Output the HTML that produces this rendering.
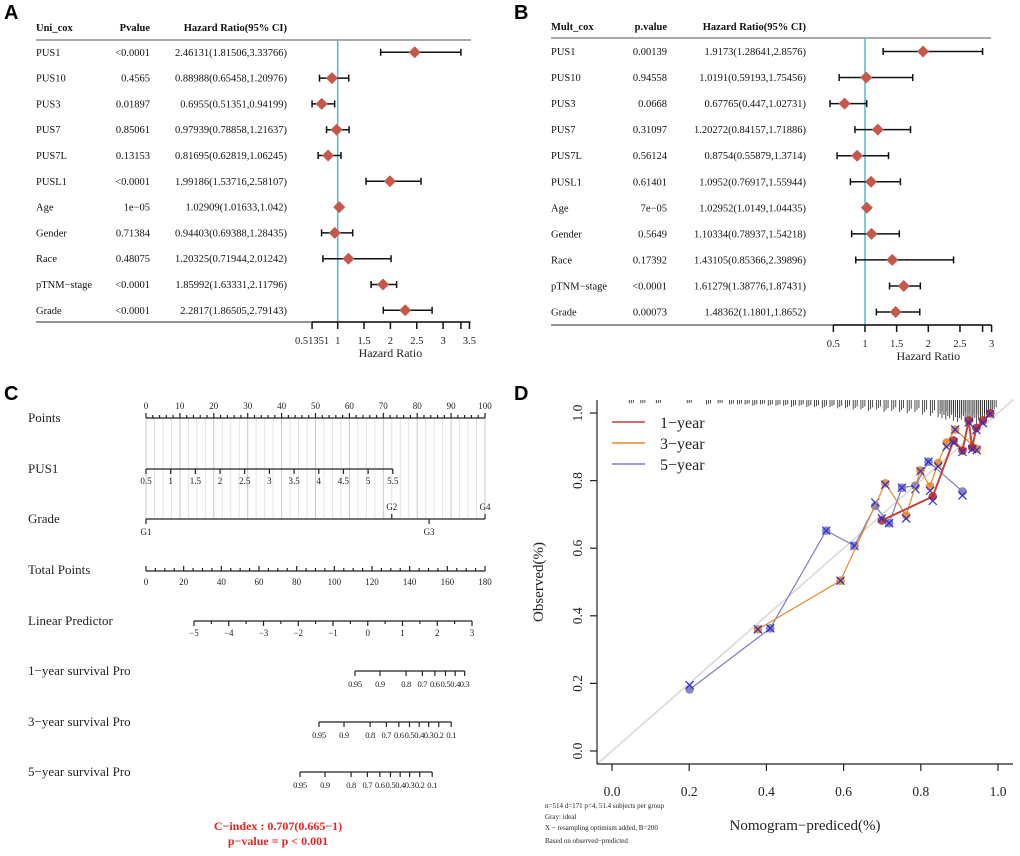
<!DOCTYPE html>
<html><head><meta charset="utf-8"><style>
html,body{margin:0;padding:0;background:#fff;}
svg{display:block;font-family:"Liberation Serif",serif;}
.pl{font-family:"Liberation Sans",sans-serif;font-weight:bold;font-size:20px;}
</style></head><body>
<svg id="fig" width="1020" height="856" viewBox="0 0 1020 856" xmlns="http://www.w3.org/2000/svg">
<text class="pl" x="4" y="19">A</text>
<text class="pl" x="514" y="19">B</text>
<text class="pl" x="4" y="400">C</text>
<text class="pl" x="514" y="400">D</text>
</svg>
<script>
// ---------- Forest A data ----------
const uniNames=["PUS1","PUS10","PUS3","PUS7","PUS7L","PUSL1","Age","Gender","Race","pTNM−stage","Grade"];
const uniP=["<0.0001","0.4565","0.01897","0.85061","0.13153","<0.0001","1e−05","0.71384","0.48075","<0.0001","<0.0001"];
const uniHR=[2.46131,0.88988,0.6955,0.97939,0.81695,1.99186,1.02909,0.94403,1.20325,1.85992,2.2817];
const uniLo=[1.81506,0.65458,0.51351,0.78858,0.62819,1.53716,1.01633,0.69388,0.71944,1.63331,1.86505];
const uniHi=[3.33766,1.20976,0.94199,1.21637,1.06245,2.58107,1.042,1.28435,2.01242,2.11796,2.79143];
const uniTicks=[0.51351,1,1.5,2,2.5,3,3.5];
const uniTickLabels=["0.51351","1","1.5","2","2.5","3","3.5"];
// ---------- Forest B data ----------
const mulNames=["PUS1","PUS10","PUS3","PUS7","PUS7L","PUSL1","Age","Gender","Race","pTNM−stage","Grade"];
const mulP=["0.00139","0.94558","0.0668","0.31097","0.56124","0.61401","7e−05","0.5649","0.17392","<0.0001","0.00073"];
const mulHR=[1.9173,1.0191,0.67765,1.20272,0.8754,1.0952,1.02952,1.10334,1.43105,1.61279,1.48362];
const mulLo=[1.28641,0.59193,0.447,0.84157,0.55879,0.76917,1.0149,0.78937,0.85366,1.38776,1.1801];
const mulHi=[2.8576,1.75456,1.02731,1.71886,1.3714,1.55944,1.04435,1.54218,2.39896,1.87431,1.8652];
const mulTicks=[0.5,1,1.5,2,2.5,3];
const mulTickLabels=["0.5","1","1.5","2","2.5","3"];
// ---------- Nomogram data ----------
const pointsTicks=[0,10,20,30,40,50,60,70,80,90,100];
const pus1Ticks=[0.5,1,1.5,2,2.5,3,3.5,4,4.5,5,5.5];
const pus1MaxPoints=72.8;
const gradeLevels=["G1","G2","G3","G4"];
const gradePoints=[0,72.5,83.5,100];
const totalTicks=[0,20,40,60,80,100,120,140,160,180];
const lpTicks=[-5,-4,-3,-2,-1,0,1,2,3];
const survProbs1=[0.95,0.9,0.8,0.7,0.6,0.5,0.4,0.3];
const survProbs3=[0.95,0.9,0.8,0.7,0.6,0.5,0.4,0.3,0.2,0.1];
const survProbs5=[0.95,0.9,0.8,0.7,0.6,0.5,0.4,0.3,0.2,0.1];
const survLabels1=["0.95","0.9","0.8","0.7","0.6","0.5","0.4","0.3"];
const survLabels35=["0.95","0.9","0.8","0.7","0.6","0.5","0.4","0.3","0.2","0.1"];
const baseOffsets=[-2.603,-1.567,-1.02];
// ---------- Calibration data ----------
const cal1X=[0.699,0.831,0.885,0.908,0.924,0.933,0.944,0.961,0.980];
const cal1Y=[0.682,0.753,0.919,0.889,0.978,0.898,0.956,0.978,0.999];
const cal1C=[0.688,0.740,0.912,0.885,0.972,0.893,0.950,0.970,0.997];
const cal3X=[0.378,0.592,0.708,0.762,0.799,0.824,0.845,0.867,0.889,0.945];
const cal3Y=[0.360,0.504,0.792,0.697,0.830,0.783,0.852,0.913,0.951,0.894];
const cal3C=[0.360,0.504,0.788,0.688,0.828,0.770,0.842,0.900,0.951,0.890];
const cal5X=[0.201,0.410,0.555,0.628,0.682,0.718,0.751,0.786,0.820,0.908];
const cal5Y=[0.182,0.363,0.652,0.607,0.725,0.674,0.779,0.785,0.856,0.768];
const cal5C=[0.195,0.363,0.652,0.607,0.735,0.674,0.779,0.775,0.856,0.756];
const rugVals=[0.05,0.08,0.12,0.20,0.25,0.28,0.31,0.33,0.35,0.37,0.39,0.41,0.43,0.45,0.47,0.49,0.51,0.53,0.55,0.57,0.59,0.61,0.63,0.65,0.67,0.69,0.71,0.73,0.75,0.77,0.79,0.81,0.83,0.85,0.86,0.87,0.88,0.89,0.90,0.91,0.92,0.93,0.94,0.95,0.96,0.97,0.98,0.99];
const rugCounts=[1,1,1,1,2,1,2,2,2,3,2,3,3,3,4,3,4,4,5,4,5,5,6,6,7,6,8,7,8,9,8,10,11,12,13,14,13,15,16,14,15,17,16,18,15,13,11,7];

const NS="http://www.w3.org/2000/svg";
const svg=document.getElementById('fig');
function el(tag,attrs,parent){const e=document.createElementNS(NS,tag);for(const k in attrs)e.setAttribute(k,attrs[k]);(parent||svg).appendChild(e);return e;}
function txt(x,y,s,attrs,parent){const t=el('text',Object.assign({x:x,y:y},attrs||{}),parent);t.textContent=s;return t;}
function grp(name){const g=el('g',{});return g;}

function forest(cfg){
  const g=grp(cfg.name);
  const sx=v=>cfg.x1+(v-1)*cfg.ppu;
  const fs={'font-size':'10.5','fill':'#111'};
  const hb={'font-size':'10.5','font-weight':'bold','fill':'#111'};
  let t=txt(cfg.labX,cfg.headY,cfg.h1,hb,g);
  t=txt(cfg.pX,cfg.headY,cfg.h2,Object.assign({'text-anchor':'end'},hb),g);
  t=txt(cfg.hrX,cfg.headY,"Hazard Ratio(95% CI)",Object.assign({'text-anchor':'end'},hb),g);
  el('line',{x1:cfg.labX,x2:cfg.lineEnd,y1:cfg.topY,y2:cfg.topY,stroke:'#555','stroke-width':1},g);
  el('line',{x1:cfg.labX,x2:cfg.lineEnd,y1:cfg.botY,y2:cfg.botY,stroke:'#555','stroke-width':1.3},g);
  const ref=el('line',{x1:sx(1),x2:sx(1),y1:cfg.topY,y2:cfg.botY,stroke:'#5bbcd0','stroke-width':1.6},g);
  
  cfg.names.forEach((n,i)=>{
    const y=cfg.row0+i*cfg.rowH;
    const r=el('g',{},g);
    
    
    txt(cfg.labX,y+3.5,n,fs,r);
    txt(cfg.pX,y+3.5,cfg.p[i],Object.assign({'text-anchor':'end'},fs),r);
    txt(cfg.hrX,y+3.5,cfg.hr[i]+"("+cfg.lo[i]+","+cfg.hi[i]+")",Object.assign({'text-anchor':'end'},fs),r);
    const a=sx(cfg.lo[i]),b=sx(cfg.hi[i]),c=sx(cfg.hr[i]);
    el('line',{x1:a,x2:b,y1:y,y2:y,stroke:'#111','stroke-width':1.5},r);
    el('line',{x1:a,x2:a,y1:y-3.5,y2:y+3.5,stroke:'#111','stroke-width':1.5},r);
    el('line',{x1:b,x2:b,y1:y-3.5,y2:y+3.5,stroke:'#111','stroke-width':1.5},r);
    const d=el('polygon',{points:`${c-6},${y} ${c},${y-6} ${c+6},${y} ${c},${y+6}`,fill:'#c5584b'},r);
    
  });
  const ax=grp(cfg.name+'-x-axis');g.appendChild(ax);
  const t0=sx(cfg.ticks[0]),tN=sx(cfg.extraMax);
  el('line',{x1:t0,x2:tN,y1:cfg.botY,y2:cfg.botY,stroke:'#111','stroke-width':1.5},ax);
  cfg.ticks.concat([cfg.extraTick]).forEach(v=>{el('line',{x1:sx(v),x2:sx(v),y1:cfg.botY,y2:cfg.botY+7,stroke:'#111','stroke-width':1.5},ax);});
  cfg.ticks.forEach((v,i)=>{txt(sx(v),cfg.botY+22,cfg.tickLabels[i],{'font-size':'10.5','text-anchor':'middle','fill':'#222'},ax);});
  const at=txt(sx(2),cfg.botY+35,"Hazard Ratio",{'font-size':'12','text-anchor':'middle','fill':'#222'},ax);
  
}
forest({name:'forest-univariate',names:uniNames,p:uniP,hr:uniHR,lo:uniLo,hi:uniHi,ticks:uniTicks,tickLabels:uniTickLabels,extraTick:3.33766,extraMax:3.5,
  h1:'Uni_cox',h2:'Pvalue',labX:36,pX:150,hrX:287,headY:31,topY:40,botY:322,row0:52.3,rowH:25.8,lineEnd:471,x1:337.7,ppu:52.7});
forest({name:'forest-multivariate',names:mulNames,p:mulP,hr:mulHR,lo:mulLo,hi:mulHi,ticks:mulTicks,tickLabels:mulTickLabels,extraTick:2.8576,extraMax:3,
  h1:'Mult_cox',h2:'p.value',labX:551,pX:667,hrX:806,headY:30,topY:38,botY:325,row0:51.5,rowH:26.05,lineEnd:991,x1:865,ppu:63.3});

(function(){
  const g=grp('nomogram');
  const px=v=>146+v*3.39;
  const pus=v=>146+(v-0.5)/5*pus1MaxPoints*3.39;
  const tot=v=>146+v*(339/180);
  const lp=v=>194+(v+5)*34.75;
  const lab={'font-size':'13','fill':'#222'};
  const tl={'font-size':'9','text-anchor':'middle','fill':'#222'};
  const ln={stroke:'#222','stroke-width':1.2};
  for(let v=0;v<=100;v+=2.5){el('line',{x1:px(v),x2:px(v),y1:418,y2:519,stroke:v%10===0?'#c8c8c8':'#e3e3e3','stroke-width':1},g);}
  function row(name,label,y){const t=txt(28,y+4,label,lab,g);}
  row('points-label','Points',418);row('pus1-label','PUS1',469);row('grade-label','Grade',519);row('total-points-label','Total Points',570);
  row('linear-predictor-label','Linear Predictor',621);row('survival-1y-label','1−year survival Pro',671);row('survival-3y-label','3−year survival Pro',722);row('survival-5y-label','5−year survival Pro',772);
  let a=grp('points-axis');g.appendChild(a);
  el('line',Object.assign({x1:px(0),x2:px(100),y1:418,y2:418},ln),a);
  for(let v=0;v<=100;v+=2){el('line',Object.assign({x1:px(v),x2:px(v),y1:418,y2:v%10===0?413:415},ln),a);}
  pointsTicks.forEach(v=>txt(px(v),409,String(v),tl,a));
  a=grp('pus1-axis');g.appendChild(a);
  el('line',Object.assign({x1:pus(0.5),x2:pus(5.5),y1:469,y2:469},ln),a);
  pus1Ticks.forEach(v=>{el('line',Object.assign({x1:pus(v),x2:pus(v),y1:469,y2:474},ln),a);txt(pus(v),484,String(v),tl,a);});
  a=grp('grade-axis');g.appendChild(a);
  el('line',Object.assign({x1:px(0),x2:px(100),y1:519,y2:519},ln),a);
  gradeLevels.forEach((n,i)=>{const x=px(gradePoints[i]);const up=(i%2===1);
    el('line',Object.assign({x1:x,x2:x,y1:519,y2:up?514:524},ln),a);txt(x,up?510:535,n,tl,a);});
  a=grp('total-points-axis');g.appendChild(a);
  el('line',Object.assign({x1:tot(0),x2:tot(180),y1:571,y2:571},ln),a);
  for(let v=0;v<=180;v+=5){el('line',Object.assign({x1:tot(v),x2:tot(v),y1:571,y2:v%20===0?566:568},ln),a);}
  totalTicks.forEach(v=>txt(tot(v),585,String(v),tl,a));
  a=grp('linear-predictor-axis');g.appendChild(a);
  el('line',Object.assign({x1:lp(-5),x2:lp(3),y1:621,y2:621},ln),a);
  for(let v=-5;v<=3;v+=0.5){el('line',Object.assign({x1:lp(v),x2:lp(v),y1:621,y2:Number.isInteger(v)?626:624},ln),a);}
  lpTicks.forEach(v=>txt(lp(v),636,(v<0?'−':'')+Math.abs(v),tl,a));
  function surv(name,probs,labels,off,y){
    const s=grp(name);g.appendChild(s);
    const xs=probs.map(p=>lp(Math.log(-Math.log(p))-off));
    el('line',Object.assign({x1:xs[0],x2:xs[xs.length-1],y1:y,y2:y},ln),s);
    xs.forEach((x,i)=>{el('line',Object.assign({x1:x,x2:x,y1:y,y2:y+5},ln),s);
      txt(x,y+16,labels[i],Object.assign({},tl,{'font-size':'8.5','letter-spacing':'-0.3'}),s);});
  }
  surv('survival-1y-axis',survProbs1,survLabels1,baseOffsets[0],671);
  surv('survival-3y-axis',survProbs3,survLabels35,baseOffsets[1],722);
  surv('survival-5y-axis',survProbs5,survLabels35,baseOffsets[2],772);
  let t=txt(278,830,'C−index : 0.707(0.665−1)',{'font-size':'12','font-weight':'bold','fill':'#e8231f','text-anchor':'middle'},g);
  
  t=txt(278,845,'p−value = p < 0.001',{'font-size':'12','font-weight':'bold','fill':'#e8231f','text-anchor':'middle'},g);
  
})();

(function(){
  const g=grp('calibration-plot');
  const sx=v=>612+v*386, sy=v=>751-v*338;
  const ax={stroke:'#222','stroke-width':1.2};
  const il=el('line',{x1:sx(-0.04),y1:sy(-0.04),x2:sx(1.04),y2:sy(1.04),stroke:'#d9d9d9','stroke-width':1.6},g);
  
  const xa=grp('x-axis');g.appendChild(xa);
  el('line',Object.assign({x1:597,x2:1013,y1:764,y2:764},ax),xa);
  [0,0.2,0.4,0.6,0.8,1].forEach(v=>{el('line',Object.assign({x1:sx(v),x2:sx(v),y1:764,y2:771},ax),xa);
    txt(sx(v),796,v.toFixed(1),{'font-size':'13.5','text-anchor':'middle','fill':'#222'},xa);});
  const ya=grp('y-axis');g.appendChild(ya);
  el('line',Object.assign({x1:597,x2:597,y1:400,y2:764},ax),ya);
  [0,0.2,0.4,0.6,0.8,1].forEach(v=>{el('line',Object.assign({x1:597,x2:590,y1:sy(v),y2:sy(v)},ax),ya);
    txt(0,0,v.toFixed(1),{'font-size':'13.5','text-anchor':'middle','fill':'#222',transform:`translate(582,${sy(v)}) rotate(-90)`},ya);});
  let t=txt(0,0,'Observed(%)',{'font-size':'15','text-anchor':'middle','fill':'#222',transform:'translate(543,582) rotate(-90)'},g);
  
  t=txt(805,830,'Nomogram−prediced(%)',{'font-size':'15','text-anchor':'middle','fill':'#222'},g);
  
  const notes=['n=514 d=171 p=4, 51.4 subjects per group','Gray: ideal','X − resampling optimism added, B=200','Based on observed−predicted'];
  const ny=[808,819,830,843];
  notes.forEach((n,i)=>{const e=txt(545,ny[i],n,{'font-size':'7','fill':'#222'},g);});
  const rg=grp('rug');g.appendChild(rg);
  rugVals.forEach((v,i)=>{for(let k=0;k<3;k++){const x=sx(v)+k*2-2;el('line',{x1:x,x2:x,y1:400,y2:400+2+rugCounts[i]*(1.25-k*0.25),stroke:'#222','stroke-width':0.8},rg);}});
  function series(name,xs,ys,cs,lc,pc,w){
    const s=grp(name);g.appendChild(s);
    el('polyline',{points:xs.map((x,i)=>sx(x)+','+sy(ys[i])).join(' '),fill:'none',stroke:lc,'stroke-width':w},s);
    xs.forEach((x,i)=>{const c=el('circle',{cx:sx(x),cy:sy(ys[i]),r:4.3,fill:pc,'fill-opacity':0.9},s);
      
      const X=sx(x),Y=sy(cs[i]);
      el('path',{d:`M${X-4},${Y-4}L${X+4},${Y+4}M${X-4},${Y+4}L${X+4},${Y-4}`,stroke:'#2a2ad6','stroke-width':1.2,fill:'none'},s);});
  }
  series('series-5-year',cal5X,cal5Y,cal5C,'#7b7bc0','#7b7bc0',1.2);
  series('series-3-year',cal3X,cal3Y,cal3C,'#e08b2f','#e08b2f',1.2);
  series('series-1-year',cal1X,cal1Y,cal1C,'#c0443a','#b52f2f',2);
  const lg=grp('legend');g.appendChild(lg);
  [['1−year','#c0443a'],['3−year','#e08b2f'],['5−year','#7b7bc0']].forEach((d,i)=>{
    const y=422+i*21;const e=el('g',{},lg);
    
    el('line',{x1:612,x2:645,y1:y,y2:y,stroke:d[1],'stroke-width':1.6},e);
    txt(660,y+6,d[0],{'font-size':'16','fill':'#222'},e);});
})();
</script>
</body></html>
